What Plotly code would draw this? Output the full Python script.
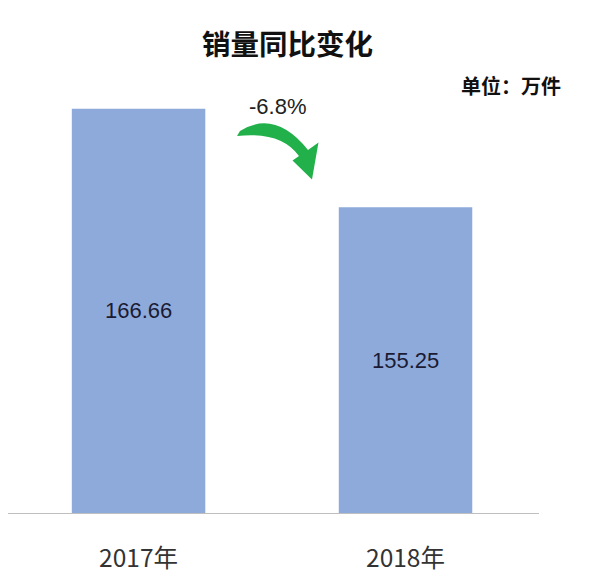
import plotly.graph_objects as go

# data
years = ['2017年', '2018年']
sales = [166.66, 155.25]
value_labels = ['166.66', '155.25']
change_label = '-6.8%'
title_text = '销量同比变化'
unit_text = '单位：万件'

# the page body has an 8px margin, so the figure is drawn 8px smaller
PAD = 8
W, H = 600 - PAD, 573 - PAD
ML, MR, MT, MB = 0, 61, 90 - PAD, 60
cjk = 'Noto Sans CJK SC'
bar_color = '#8eaadb'
y_range = [119.84, 168.82]
x_range = [-0.489, 1.5]


def px2paper(px, py):
    # pixel position in the window -> paper coordinates
    pw = W - ML - MR
    ph = H - MT - MB
    return (px - PAD - ML) / pw, (H - MB - (py - PAD)) / ph


def path_from(cmds):
    out = []
    for c in cmds:
        if c == 'Z':
            out.append('Z')
            continue
        op, pts = c[0], c[1:]
        s = op
        for (x, y) in pts:
            a, b = px2paper(x, y)
            s += f' {a:.4f},{b:.4f}'
        out.append(s)
    return ' '.join(out)


fig = go.Figure()
fig.add_trace(go.Bar(
    x=years, y=sales,
    marker=dict(color=bar_color, line=dict(width=0)),
    hoverinfo='skip',
))

# value labels in the middle of the visible part of each bar
for yr, v, lab in zip(years, sales, value_labels):
    fig.add_annotation(text=lab, x=yr, y=(y_range[0] + v) / 2, xref='x', yref='y',
                       showarrow=False, xanchor='center', yanchor='middle',
                       font=dict(family='Liberation Sans', size=22, color='#1b1b33'))

# green curved arrow
arrow = path_from([
    ('M', (237, 136)),
    ('L', (240, 131)),
    ('Q', (275, 109), (308, 150)),
    ('L', (318.5, 142.5)),
    ('L', (312, 179.5)),
    ('L', (292.5, 160.5)),
    ('L', (299, 156)),
    ('Q', (281, 131), (237, 136)),
    'Z',
])
fig.add_shape(type='path', path=arrow, xref='paper', yref='paper',
              fillcolor='#22b04b', line=dict(width=0), layer='above')

tx, ty = px2paper(287, 42)
fig.add_annotation(text=f'<b>{title_text}</b>', x=tx, y=ty, xref='paper', yref='paper',
                   showarrow=False, xanchor='center', yanchor='middle',
                   font=dict(family=cjk, size=28.5, color='#111111'))
ux, uy = px2paper(563, 85)
fig.add_annotation(text=f'<b>{unit_text}</b>', x=ux, y=uy, xref='paper', yref='paper',
                   showarrow=False, xanchor='right', yanchor='middle',
                   font=dict(family=cjk, size=20, color='#111111'))
cx, cy = px2paper(277, 107)
fig.add_annotation(text=change_label, x=cx, y=cy, xref='paper', yref='paper',
                   showarrow=False, xanchor='center', yanchor='middle',
                   font=dict(family='Liberation Sans', size=22, color='#222222'))

fig.update_layout(
    width=W, height=H,
    margin=dict(l=ML, r=MR, t=MT, b=MB, autoexpand=False),
    paper_bgcolor='white', plot_bgcolor='white',
    bargap=0.5, showlegend=False,
    xaxis=dict(range=x_range, showline=True, linecolor='#bfbfbf', linewidth=1,
               showgrid=False, ticks='', ticklabelstandoff=24, automargin=False,
               tickfont=dict(family=cjk, size=24.5, color='#333333')),
    yaxis=dict(range=y_range, visible=False, showgrid=False, zeroline=False),
)

fig.write_html('out.html')
